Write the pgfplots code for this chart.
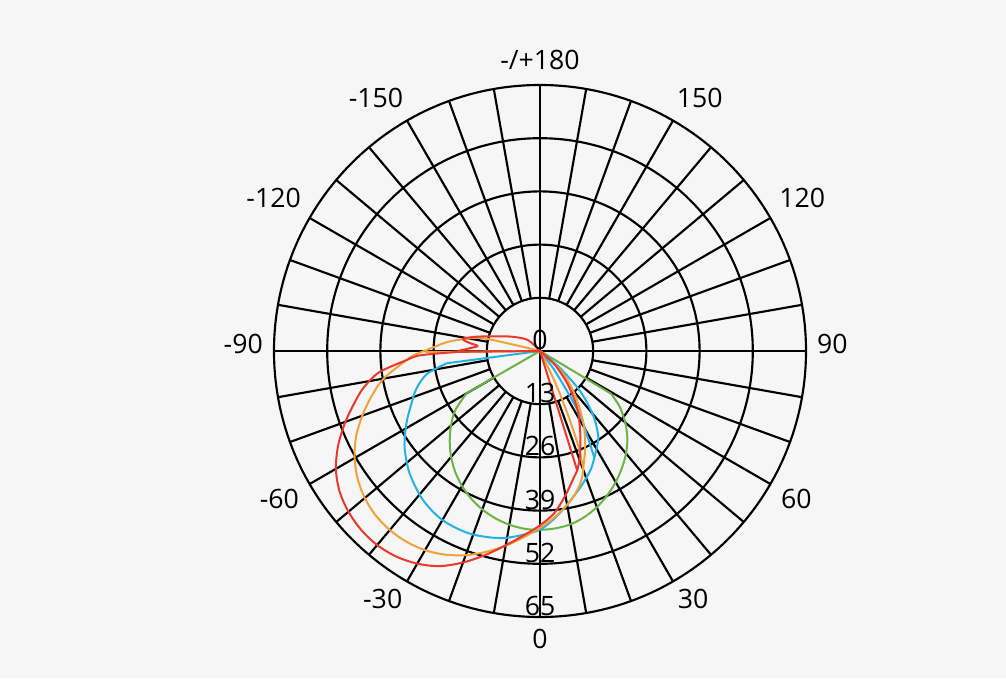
\documentclass[border=0pt]{standalone}
\usepackage{pgfplots}
\pgfplotsset{compat=1.18}
\usepgfplotslibrary{polar}
\usetikzlibrary{backgrounds}
\usepackage{fontspec}
\setmainfont{Open Sans}
\definecolor{bgc}{HTML}{F6F6F6}
\definecolor{cred}{HTML}{E8392B}
\definecolor{corange}{HTML}{F0A23A}
\definecolor{cblue}{HTML}{22B2E6}
\definecolor{cgreen}{HTML}{6AB344}

\begin{document}
\begin{tikzpicture}[lab/.style={font=\fontsize{20}{24}\selectfont, inner sep=0pt}]
\begin{polaraxis}[
    scale only axis, width=399pt, height=399pt,
    ymin=0, ymax=65,
    xtick=\empty,
    ytick={13,26,39,52},
    yticklabels={},
    major tick length=0pt,
    ymajorgrids,
    grid style={black, line width=1.6pt},
    axis line style={black, line width=1.6pt},
    clip=false,
    % data angles: 0 = down, positive to the right
    every axis plot/.append style={line width=1.5pt, line join=round, x filter/.expression={x-90}},
  ]
  \coordinate (C) at (axis cs:0,0);
  % spokes every 10 degrees, from the inner ring out
  \pgfplotsinvokeforeach{0,10,...,350}{
    \draw[black, line width=1.6pt] (axis cs:#1,13) -- (axis cs:#1,65);
  }
  \draw[black, line width=1.6pt] (axis cs:0,65) -- (axis cs:180,65);
  \draw[black, line width=1.6pt] (axis cs:90,65) -- (axis cs:270,65);

  % green
  \addplot[cgreen] coordinates {(0,0) (-60.1,20.7)};
  \addplot[cgreen] coordinates {(59,20.3) (0,0)};
  \addplot[cgreen, smooth, tension=0.5] coordinates {
    (-60.1,20.7) (-55,25.3) (-50,28.4) (-45,31.2) (-40,33.8) (-35,36.1)
    (-30,38.1) (-25,39.8) (-20,41.2) (-15,42.3) (-10,43.1) (-5,43.6) (0,43.7)
    (5,43.5) (10,43.0) (15,42.0) (20,40.6) (25,38.9) (30,37.0) (35,34.9)
    (40,32.7) (45,30.2) (50,27.2) (55,23.8) (59,20.3)
  };
  % blue
  \addplot[cblue] coordinates {(0,0) (-82.5,23)};
  \addplot[cblue, smooth, tension=0.5] coordinates {
    (-82.5,23) (-78.5,28.2) (-73,31.6) (-67,34.3) (-61.4,37.2) (-54.6,40.6)
    (-46.8,43.7) (-38.1,46.3) (-29.9,47.7) (-21,47.8) (-11.2,46.6) (-1,44.0)
    (4,41.6) (8.5,39.0) (16.4,34.8) (22.8,31.7) (26.1,29.8) (30,27.6)
    (34.4,25.2) (39.6,20.4) (45,13.9) (49.6,6.4) (0,0)
  };
  \addplot[cblue, smooth, tension=0.5] coordinates {
    (0,0) (37.4,5.2) (34,11.8) (32,18.5) (29.2,23.6) (27,29.2)
  };
  % orange
  \addplot[corange, smooth, tension=0.5] coordinates {
    (0,0) (-103.5,6.3) (-102.6,14.6) (-99.1,18.6) (-95.6,22.7) (-91.6,26.5)
    (-88.2,30.7) (-86.1,32.7) (-80,38.8) (-75,42.6) (-70,46.2) (-65,49.6)
    (-60,52.3) (-55,54.4) (-50,55.9) (-45,56.8) (-40,57.1) (-35,56.9)
    (-30,56.2) (-25,54.9) (-20,53.1) (-15,50.8) (-10,48.3) (-5,45.7) (0,43.2)
    (5,40.8) (10,38.2) (15,35.2) (18.4,32.6)
    (20.2,30.6) (25.6,25.6) (31.2,20.4) (38.5,13.8) (46.3,7.5) (0,0)
  };
  \addplot[corange, smooth, tension=0.5] coordinates {
    (0,0) (25.8,8.4) (23.6,17.1) (22,24.9) (20.2,30.6)
  };
  \addplot[corange] coordinates {(0,0) (-89.5,28)};
  % red
  \addplot[cred] coordinates {(0,0) (-89.4,20) (-88.5,26)};
  \addplot[cred] coordinates {(0,0) (17.3,30.6)};
  \addplot[cred, smooth, tension=0.5] coordinates {
    (-88.5,26) (-87.7,30.2) (-86.1,32.7) (-82.5,39.6) (-78.5,43.8) (-75,46.6)
    (-70,50.6) (-65,54.4) (-60,57.6) (-55,59.8) (-50,61.1) (-45,61.8)
    (-40,61.9) (-35,61.3) (-30,60.0) (-25,58.0) (-20,55.0) (-15,51.6)
    (-10,48.2) (-5,45.2) (0,42.6) (5,39.8) (10,35.8) (15,32.0)
    (17.3,30.6) (21,27.3) (26.3,22.2) (33,16.7) (39.5,10.8) (47,5.0) (0,0)
  };
  \addplot[cred, smooth, tension=0.5] coordinates {
    (0,0) (-132,4.0) (-117,7.7) (-108,11.5) (-103,15.6) (-99,19.1)
    (-96.5,17.3) (-94.6,15.3) (-92,17.5) (-90,20)
  };

  % angle labels
  \node[lab, anchor=west] at (axis cs:-61,69.3) {30};
  \node[lab, anchor=west] at (axis cs:-31.6,69.1) {60};
  \node[lab, anchor=west] at (axis cs:1.5,67.7) {90};
  \node[lab, anchor=west] at (axis cs:32.7,69.4) {120};
  \node[lab, anchor=west] at (axis cs:61.6,70.2) {150};
  \node[lab, anchor=east] at (axis cs:-119,69.3) {-30};
  \node[lab, anchor=east] at (axis cs:-148.4,69.1) {-60};
  \node[lab, anchor=east] at (axis cs:178.5,67.7) {-90};
  \node[lab, anchor=east] at (axis cs:147.3,69.4) {-120};
  \node[lab, anchor=east] at (axis cs:118.4,70.2) {-150};
  \node[lab, anchor=north] at (axis cs:-90,67.9) {0};
  \node[lab, anchor=base] at (axis cs:90,68.9) {-/+180};
  % intensity labels
  \pgfplotsinvokeforeach{0,13,26,39,52,65}{
    \node[lab, anchor=base, yshift=1.2pt] at (axis cs:-90,#1) {#1};
  }
\end{polaraxis}
\begin{scope}[on background layer]
  \fill[bgc] ([shift={(-405pt,-245.25pt)}]C) rectangle ([shift={(349.5pt,263.25pt)}]C);
\end{scope}
\end{tikzpicture}
\end{document}
